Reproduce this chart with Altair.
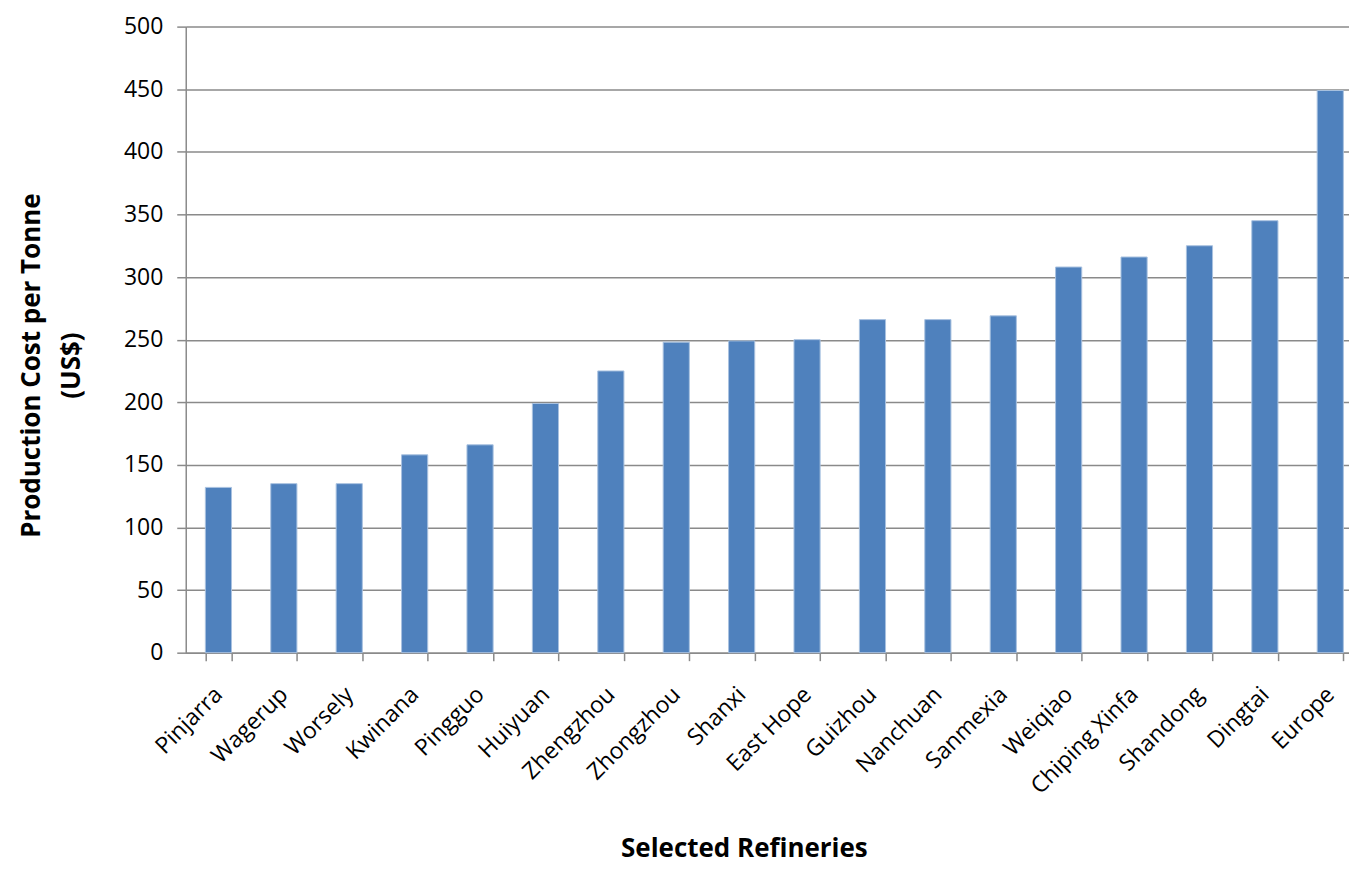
import altair as alt
import pandas as pd

refineries = ["Pinjarra", "Wagerup", "Worsely", "Kwinana", "Pingguo", "Huiyuan",
              "Zhengzhou", "Zhongzhou", "Shanxi", "East Hope", "Guizhou", "Nanchuan",
              "Sanmexia", "Weiqiao", "Chiping Xinfa", "Shandong", "Dingtai", "Europe"]
costs = [132, 135, 135, 158, 166, 199, 225, 248, 249, 250, 266, 266, 269, 308, 316, 325, 345, 449]

df = pd.DataFrame({"Refinery": refineries, "Cost": costs})

FONT = "Open Sans"
GRID = "#8a8a8a"

chart = alt.Chart(df).mark_bar(
    color="#4F81BD", stroke="#A9C2E0", strokeWidth=1
).encode(
    x=alt.X("Refinery:N", sort=refineries,
            scale=alt.Scale(paddingInner=0.6, paddingOuter=0.3),
            axis=alt.Axis(title="Selected Refineries", labelAngle=-45,
                          labelAlign="right", labelBaseline="middle",
                          labelPadding=30, tickSize=8, tickBand="extent",
                          tickColor=GRID, tickWidth=1.5,
                          domainColor=GRID, domainWidth=1.5,
                          labelFont=FONT, labelFontSize=23, labelColor="#000000",
                          titleFont=FONT, titleFontSize=26, titleFontWeight="bold",
                          titleColor="#000000", titleX=559, titleY=204,
                          titleBaseline="alphabetic", titleAlign="center")),
    y=alt.Y("Cost:Q", scale=alt.Scale(domain=[0, 500], nice=False),
            axis=alt.Axis(title=["Production Cost per Tonne", "(US$)"],
                          values=list(range(0, 501, 50)),
                          tickSize=9, labelPadding=14,
                          tickColor=GRID, tickWidth=1.5,
                          domainColor=GRID, domainWidth=1.5,
                          gridColor=GRID, gridWidth=1.5,
                          labelFont=FONT, labelFontSize=23, labelColor="#000000",
                          titleFont=FONT, titleFontSize=26, titleFontWeight="bold",
                          titleColor="#000000", titleX=-141, titleY=339,
                          titleAlign="center", titleAngle=-90, titleBaseline="bottom",
                          titleLineHeight=40)),
).properties(
    width=1179, height=627,
    autosize=alt.AutoSizeParams(type="none"),
    padding={"left": 178, "top": 18, "right": -14, "bottom": 214},
).configure_view(stroke=None).configure_axisX(grid=False)

chart.save("out.html", embed_options={"renderer": "svg", "actions": False})
